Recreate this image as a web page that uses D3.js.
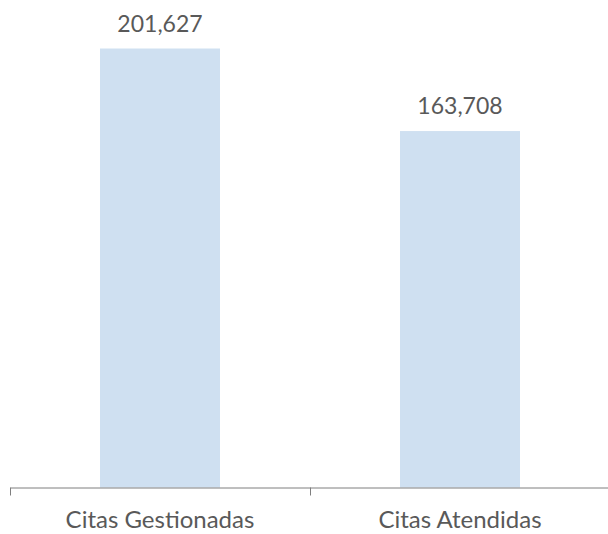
<!DOCTYPE html>
<html><head><meta charset="utf-8">
<script src="https://cdn.jsdelivr.net/npm/d3@7"></script>
<style>html,body{margin:0;padding:0;background:#fff;}svg{display:block;}</style>
</head><body>
<svg id="c" width="608" height="534"></svg>
<script>
const categories = ["Citas Gestionadas", "Citas Atendidas"];
const values = [201627, 163708];

const svg = d3.select("#c");
const x = d3.scaleBand().domain(categories).range([10, 610]).paddingInner(0).paddingOuter(0);
const y = d3.scaleLinear().domain([0, 220000]).range([487.5, 8.5]);
const barW = 120;
const font = "Lato, 'Open Sans', sans-serif";

svg.selectAll("rect.bar").data(categories).enter().append("rect")
  .attr("class", "bar")
  .attr("x", (d) => x(d) + x.bandwidth() / 2 - barW / 2)
  .attr("width", barW)
  .attr("y", (d, i) => y(values[i]))
  .attr("height", (d, i) => y(0) - y(values[i]))
  .attr("fill", "#cfe0f1");

const axis = d3.axisBottom(x).tickSize(0).tickFormat("");
const g = svg.append("g").attr("transform", `translate(0,${y(0)})`).call(axis);
g.select(".domain").attr("stroke", "#7f7f7f").attr("stroke-width", 1);
const bounds = categories.map(c => x(c));
g.selectAll("line.sep").data(bounds).enter().append("line")
  .attr("class", "sep")
  .attr("x1", d => Math.round(d) + 0.5).attr("x2", d => Math.round(d) + 0.5)
  .attr("y1", 0).attr("y2", 8)
  .attr("stroke", "#7f7f7f").attr("stroke-width", 1);

svg.selectAll("text.cat").data(categories).enter().append("text")
  .attr("class", "cat")
  .attr("x", d => x(d) + x.bandwidth() / 2)
  .attr("y", 528)
  .attr("text-anchor", "middle")
  .attr("font-family", font)
  .attr("font-size", 24)
  .attr("fill", "#595959")
  .text(d => d);

const fmt = d3.format(",");
svg.selectAll("text.val").data(categories).enter().append("text")
  .attr("class", "val")
  .attr("x", d => x(d) + x.bandwidth() / 2)
  .attr("y", (d, i) => y(values[i]) - 17)
  .attr("text-anchor", "middle")
  .attr("font-family", font)
  .attr("font-size", 23)
  .attr("fill", "#595959")
  .text((d, i) => fmt(values[i]));
</script>
</body></html>
